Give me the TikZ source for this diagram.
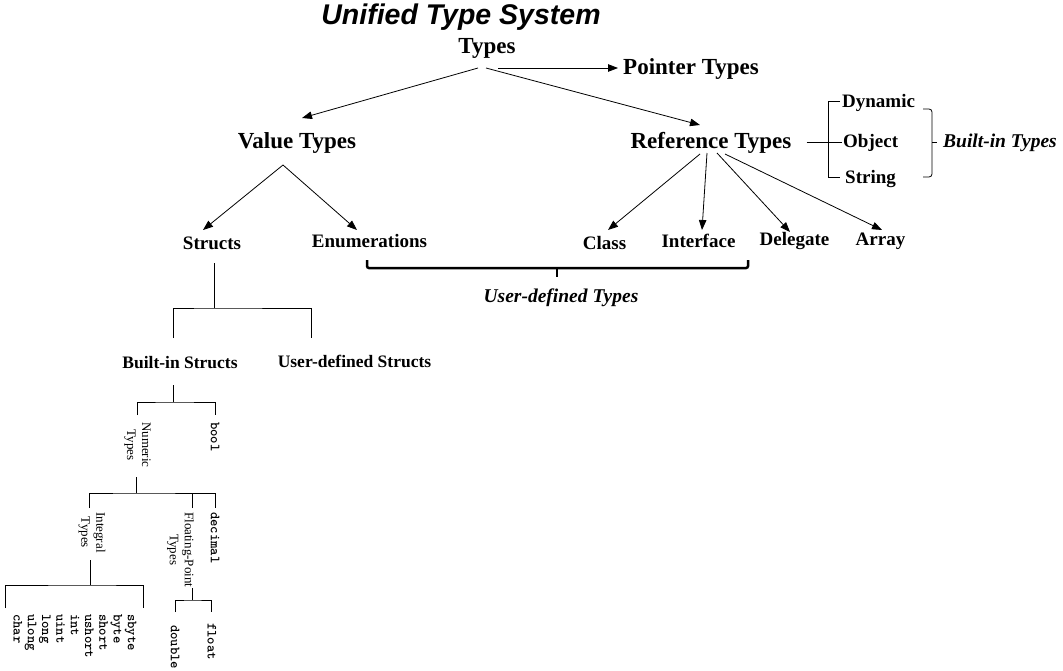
\documentclass[tikz,border=0pt]{standalone}
\usepackage{fontspec}
\setmainfont{Liberation Serif}
\newfontfamily\titlefont{Liberation Sans}
\usetikzlibrary{arrows.meta,calc}

\begin{document}
\begin{tikzpicture}[x=1pt, y=-1pt,
    every node/.style={inner sep=0pt, anchor=base},
    level1/.style={font=\fontsize{23}{26}\selectfont\bfseries},
    level2/.style={font=\fontsize{19}{22}\selectfont\bfseries},
    level3/.style={font=\fontsize{17.5}{20}\selectfont\bfseries},
    note/.style={font=\fontsize{19.5}{22}\selectfont\bfseries\itshape},
    vlabel/.style={rotate=-90, anchor=west, align=center, font=\fontsize{13}{15}\selectfont},
    vcode/.style={rotate=-90, anchor=west, align=left, font=\fontsize{14}{14.3}\selectfont\ttfamily\bfseries},
    arr/.style={-{Triangle[length=10pt,width=7.5pt]}, line width=0.8pt},
    tree/.style={line width=0.8pt}]

          \useasboundingbox (0,0) rectangle (1063,670);

          \node[font=\titlefont\fontsize{28.5}{30}\selectfont\bfseries\itshape] (title) at (461,24) {Unified Type System};

          \node[level1] (types) at (487,53) {Types};
          \node[level1, anchor=base west] (pointer) at (623,74) {Pointer Types};
          \node[level1] (value) at (297,148) {Value Types};
          \node[level1] (reference) at (711,148) {Reference Types};

          \node[level2, anchor=base west] (dynamic) at (842,107) {Dynamic};
          \node[level2, anchor=base west] (object) at (843,147) {Object};
          \node[level2, anchor=base west] (string) at (845,183) {String};
          \node[note, anchor=base west] (builtin) at (943,147) {Built-in Types};

          \node[level2] (structs) at (212,249) {Structs};
          \node[level2] (enums) at (369.5,247) {Enumerations};
          \node[level2] (class) at (604.5,249) {Class};
          \node[level2] (interface) at (698.5,247) {Interface};
          \node[level2] (delegate) at (794.5,245) {Delegate};
          \node[level2] (array) at (880.5,245) {Array};
          \node[note] (userdef) at (561,302) {User-defined Types};

          \node[level3] (bstructs) at (180,368) {Built-in Structs};
          \node[level3] (ustructs) at (354.5,367) {User-defined Structs};

          \node[vlabel] (numeric) at (137.5,422) {Numeric\\Types};
          \node[vcode] (bool) at (215,422) {bool};
          \node[vlabel] (integral) at (92,512) {Integral\\Types};
          \node[vlabel] (floating) at (180.5,512) {Floating-Point\\Types};
          \node[vcode] (decimal) at (215,512) {decimal};
          \node[vcode] (ints) at (75,614) {sbyte\\byte\\short\\ushort\\int\\uint\\long\\ulong\\char};
          \node[vcode] (double) at (175,625) {double};
          \node[vcode] (float) at (212,623) {float};

          % arrows from the top
          \draw[arr] ($(types.base)+(11,15)$) -- ($(pointer.base west)+(-5,-6)$);
          \draw[arr] ($(types.base)+(-9,15)$) -- ($(value.base)+(5,-30)$);
          \draw[arr] ($(types.base)+(-1,15)$) -- ($(reference.base)+(-11,-23)$);

          \coordinate (vfan) at ($(value.base)+(-14,17)$);
          \draw[arr] (vfan) -- ($(structs.base)+(-9,-19)$);
          \draw[arr] (vfan) -- ($(enums.base)+(-12.5,-17)$);

          \draw[arr] ($(reference.base)+(-11,6)$) -- ($(class.base)+(3.5,-19)$);
          \draw[arr] ($(reference.base)+(-4,5)$) -- ($(interface.base)+(3.5,-17)$);
          \draw[arr] ($(reference.base)+(6,5)$) -- ($(delegate.base)+(-4.5,-13)$);
          \draw[arr] ($(reference.base)+(14,6)$) -- ($(array.base)+(1.5,-15)$);

          % built-in types
          \draw[tree] ($(reference.base east)+(15,-6)$) -- ($(object.base west)+(-1,-5)$);
          \draw[tree] ($(dynamic.base west)+(-2,-6)$) -- ++(-12,0) |- ($(string.base west)+(-5,-6)$);
          \draw[tree, rounded corners=3pt] (923,109) -| (932,177) -- (923,177);
          \draw[tree] (932,142) -- ($(builtin.base west)+(-6,-5)$);

          % user-defined types
          \draw[line width=2.5pt, rounded corners=2pt] (367,260) |- (748,268) -- (748,260);
          \draw[line width=2.5pt] (557,268) -- (557,277);

          % structs
          \coordinate (sj) at (214,308);
          \draw[tree] ($(structs.base)+(2,14)$) -- (sj);
          \draw[tree] ($(bstructs.base)+(-7,-30)$) |- (sj) -| ($(ustructs.base)+(-43.5,-29)$);

          \coordinate (bj) at (173,402);
          \draw[tree] ($(bstructs.base)+(-7,17)$) -- (bj);
          \draw[tree] ($(numeric.west)+(0,-7)$) |- (bj) -| ($(bool.west)+(0,-7)$);

          \coordinate (nj) at (136,493);
          \draw[tree] ($(numeric.west)+(-1.5,55)$) -- (nj);
          \draw[tree] ($(integral.west)+(-3,-4)$) |- (nj) -| ($(decimal.west)+(0,-4)$);
          \draw[tree] ($(floating.west)+(11.5,-4)$) -- ++(0,-15);

          \coordinate (ij) at (90,585);
          \draw[tree] ($(integral.west)+(-2,48)$) -- (ij);
          \draw[tree] ($(ints.west)+(-70,-6)$) |- (ij) -| ($(ints.west)+(68,-6)$);

          \coordinate (fj) at (192,600);
          \draw[tree] ($(floating.west)+(11.5,76)$) -- (fj);
          \draw[tree] ($(double.west)+(0,-13)$) |- (fj) -| ($(float.west)+(-1,-11)$);
        \end{tikzpicture}
\end{document}
